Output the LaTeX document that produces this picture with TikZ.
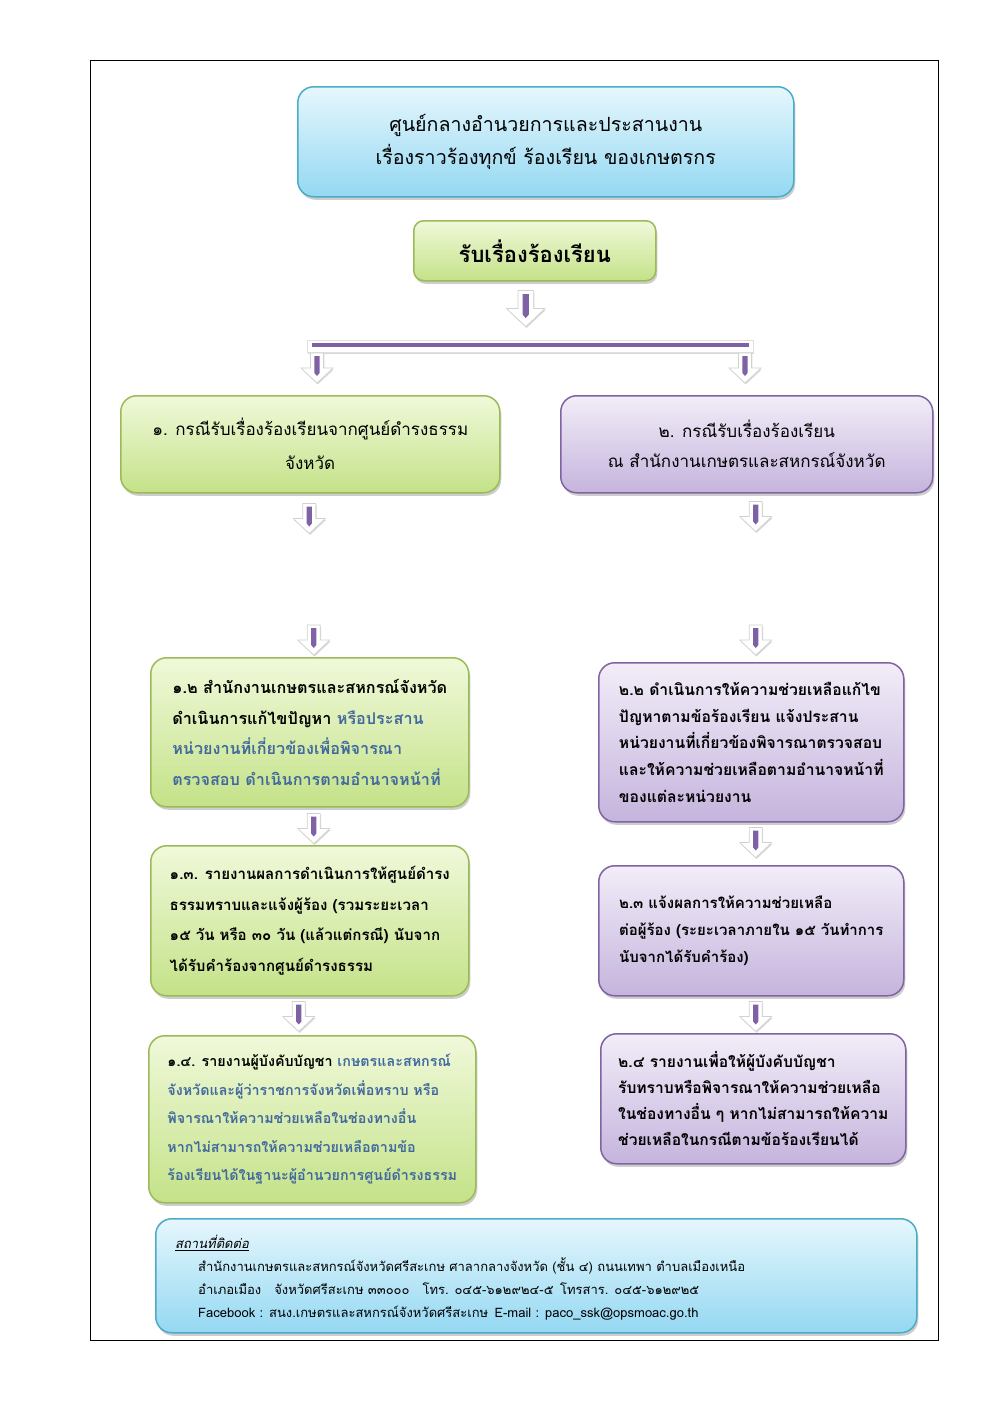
\documentclass[tikz,border=0pt]{standalone}
\usepackage{fontspec}
\setmainfont[Script=Thai]{Loma}
\usetikzlibrary{shadows,calc}
\definecolor{grn}{HTML}{9BBB59}
\definecolor{gtop}{HTML}{F0F9DA}
\definecolor{gbot}{HTML}{C4E288}
\definecolor{prp}{HTML}{8064A2}
\definecolor{ptop}{HTML}{F2EDF8}
\definecolor{pbot}{HTML}{C5B4DD}
\definecolor{cyn}{HTML}{4BACC6}
\definecolor{ctop}{HTML}{E6F7FD}
\definecolor{cbot}{HTML}{94D8F2}
\definecolor{tblue}{HTML}{41699E}
\definecolor{abar}{HTML}{7F62A6}
\tikzset{
  shd/.style={drop shadow={shadow xshift=1.5pt, shadow yshift=-3pt, opacity=0.28, fill=black!70}},
  box/.style={rounded corners=16pt, line width=1.5pt, shd, inner sep=0pt, anchor=north west, align=left},
  gbox/.style={box, draw=grn, top color=gtop, bottom color=gbot},
  pbox/.style={box, draw=prp, top color=ptop, bottom color=pbot},
  cbox/.style={box, draw=cyn, top color=ctop, bottom color=cbot},
  darrow/.pic={
    \path[fill=white, draw=black!18, line width=0.6pt, drop shadow={shadow xshift=0.8pt, shadow yshift=-1.5pt, opacity=0.25, fill=black!60}]
      (-6.5,0) -- (6.5,0) -- (6.5,15) -- (16,15) -- (0,30) -- (-16,15) -- (-6.5,15) -- cycle;
    \fill[abar] (-2.6,3) -- (2.6,3) -- (2.6,20) -- (0,23) -- (-2.6,20) -- cycle;
  }
}
\begin{document}
\begin{tikzpicture}[x=1pt,y=-1pt]
\useasboundingbox (0,0) rectangle (1000,1414);
\fill[white] (0,0) rectangle (1000,1414);
\draw[line width=0.8pt] (90,60) rectangle (938,1340);

% title
\node[cbox, align=center, minimum width=496pt, minimum height=110pt,
  font=\fontsize{19.6}{33}\selectfont] (title) at (297,86)
  {ศูนย์กลางอำนวยการและประสานงาน\\เรื่องราวร้องทุกข์ ร้องเรียน ของเกษตรกร};

\node[gbox, align=center, minimum width=242pt, minimum height=60pt, rounded corners=10pt,
  font=\bfseries\fontsize{22}{26}\selectfont] (recv) at (413,220) {รับเรื่องร้องเรียน};

\pic[scale=1.2] at ($(recv.south)+(-9,9)$) {darrow};

% branch bar
\coordinate (brL) at (312,345);
\coordinate (brR) at (749,345);
\path[fill=white, draw=black!12, line width=0.5pt, drop shadow={shadow xshift=0.8pt, shadow yshift=-1.5pt, opacity=0.25, fill=black!60}]
  ($(brL)+(-5,-5)$) rectangle ($(brR)+(4,7)$);
\draw[abar, line width=4pt] (brL) -- (brR);

% level 1
\node[gbox, align=center, minimum width=379pt, minimum height=97pt,
  font=\fontsize{17}{34}\selectfont] (b1) at (120,395)
  {๑. กรณีรับเรื่องร้องเรียนจากศูนย์ดำรงธรรม\\จังหวัด};
\node[pbox, align=center, minimum width=372pt, minimum height=97pt,
  font=\fontsize{17}{30}\selectfont] (b2) at (560,395)
  {๒. กรณีรับเรื่องร้องเรียน\\ณ สำนักงานเกษตรและสหกรณ์จังหวัด};

\pic at ($(brL)+(5,8)$) {darrow};
\pic at ($(brR)+(-4,8)$) {darrow};

\pic at ($(b1.south)+(-1,10)$) {darrow};
\pic at ($(b2.south)+(9,8)$) {darrow};

% left column
\node[gbox, minimum width=318pt, minimum height=149pt,
  font=\bfseries\fontsize{16.2}{30.5}\selectfont] (b12) at (150,657)
  {๑.๒ สำนักงานเกษตรและสหกรณ์จังหวัด\\
   ดำเนินการแก้ไขปัญหา \textcolor{tblue}{หรือประสาน}\\
   \textcolor{tblue}{หน่วยงานที่เกี่ยวข้องเพื่อพิจารณา}\\
   \textcolor{tblue}{ตรวจสอบ ดำเนินการตามอำนาจหน้าที่}};
\node[gbox, minimum width=318pt, minimum height=150pt,
  font=\bfseries\fontsize{15.1}{30.7}\selectfont] (b13) at (150,845)
  {๑.๓. รายงานผลการดำเนินการให้ศูนย์ดำรง\\
   ธรรมทราบและแจ้งผู้ร้อง (รวมระยะเวลา\\
   ๑๕ วัน หรือ ๓๐ วัน (แล้วแต่กรณี) นับจาก\\
   ได้รับคำร้องจากศูนย์ดำรงธรรม};
\node[gbox, minimum width=327pt, minimum height=167pt,
  font=\bfseries\fontsize{14.3}{28.5}\selectfont] (b14) at (148,1035)
  {๑.๔. รายงานผู้บังคับบัญชา \textcolor{tblue}{เกษตรและสหกรณ์}\\
   \textcolor{tblue}{จังหวัดและผู้ว่าราชการจังหวัดเพื่อทราบ หรือ}\\
   \textcolor{tblue}{พิจารณาให้ความช่วยเหลือในช่องทางอื่น}\\
   \textcolor{tblue}{หากไม่สามารถให้ความช่วยเหลือตามข้อ}\\
   \textcolor{tblue}{ร้องเรียนได้ในฐานะผู้อำนวยการศูนย์ดำรงธรรม}};

% right column
\node[pbox, minimum width=305pt, minimum height=159pt,
  font=\bfseries\fontsize{15.7}{26.7}\selectfont] (b22) at (598,662)
  {๒.๒ ดำเนินการให้ความช่วยเหลือแก้ไข\\
   ปัญหาตามข้อร้องเรียน แจ้งประสาน\\
   หน่วยงานที่เกี่ยวข้องพิจารณาตรวจสอบ\\
   และให้ความช่วยเหลือตามอำนาจหน้าที่\\
   ของแต่ละหน่วยงาน};
\node[pbox, minimum width=305pt, minimum height=130pt,
  font=\bfseries\fontsize{15}{27}\selectfont] (b23) at (598,865)
  {๒.๓ แจ้งผลการให้ความช่วยเหลือ\\
   ต่อผู้ร้อง (ระยะเวลาภายใน ๑๕ วันทำการ\\
   นับจากได้รับคำร้อง)};
\node[pbox, minimum width=305pt, minimum height=130pt,
  font=\bfseries\fontsize{15.6}{26}\selectfont] (b24) at (600,1033)
  {๒.๔ รายงานเพื่อให้ผู้บังคับบัญชา\\
   รับทราบหรือพิจารณาให้ความช่วยเหลือ\\
   ในช่องทางอื่น ๆ หากไม่สามารถให้ความ\\
   ช่วยเหลือในกรณีตามข้อร้องเรียนได้};

% arrows between boxes
\pic at ($(b12.north)+(4,-32)$) {darrow};
\pic at ($(b22.north)+(4.5,-37)$) {darrow};
\pic at ($(b12.south)+(4,6)$) {darrow};
\pic at ($(b22.south)+(4.5,5)$) {darrow};
\pic at ($(b13.south)+(-11,5)$) {darrow};
\pic at ($(b23.south)+(4.5,5)$) {darrow};

% contact
\node[cbox, minimum width=761pt, minimum height=114pt] (contact) at (155,1218) {};
\node[anchor=west, align=left, inner sep=0pt, font=\fontsize{13}{23}\selectfont] (ctext) at ($(contact.west)+(20,2)$)
  {\underline{\itshape สถานที่ติดต่อ}\\
   \hspace*{23pt}สำนักงานเกษตรและสหกรณ์จังหวัดศรีสะเกษ ศาลากลางจังหวัด (ชั้น ๔) ถนนเทพา ตำบลเมืองเหนือ\\
   \hspace*{23pt}อำเภอเมือง\quad จังหวัดศรีสะเกษ ๓๓๐๐๐\quad โทร. ๐๔๕-๖๑๒๙๒๔-๕\enspace โทรสาร. ๐๔๕-๖๑๒๙๒๕\\
   \hspace*{23pt}Facebook : สนง.เกษตรและสหกรณ์จังหวัดศรีสะเกษ\enspace E-mail : paco\_ssk@opsmoac.go.th};
\end{tikzpicture}
\end{document}
